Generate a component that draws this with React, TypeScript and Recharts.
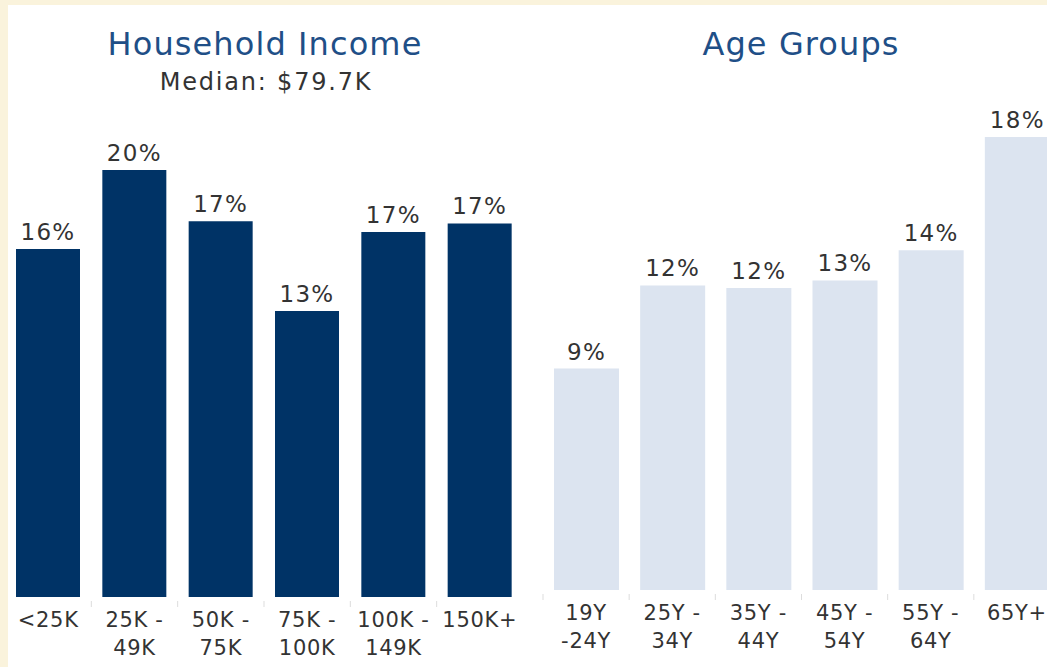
import React from 'react';
import { BarChart, Bar, XAxis, YAxis, LabelList } from 'recharts';

const incomeCategories = ['<25K', '25K -\n49K', '50K -\n75K', '75K -\n100K', '100K -\n149K', '150K+'];
const incomeValues = [16.3, 20.0, 17.6, 13.4, 17.1, 17.5];
const incomeLabels = ['16%', '20%', '17%', '13%', '17%', '17%'];

const ageCategories = ['19Y\n-24Y', '25Y -\n34Y', '35Y -\n44Y', '45Y -\n54Y', '55Y -\n64Y', '65Y+'];
const ageValues = [8.8, 12.1, 12.0, 12.3, 13.5, 18.0];
const ageLabels = ['9%', '12%', '12%', '13%', '14%', '18%'];

const incomeTitle = 'Household Income';
const incomeSubtitle = 'Median: $79.7K';
const ageTitle = 'Age Groups';

const FONT = '"DejaVu Sans", Verdana, sans-serif';
const TEXT = '#333333';
const TITLE = '#1f4f87';
const DARK = '#003366';
const LIGHT = '#dce4f0';
const CREAM = '#faf3dc';

const incomeData = incomeCategories.map((c, i) => ({ name: c, value: incomeValues[i], label: incomeLabels[i] }));
const ageData = ageCategories.map((c, i) => ({ name: c, value: ageValues[i], label: ageLabels[i] }));

function MultiTick(props: any) {
  const { x, y, payload, width, visibleTicksCount } = props;
  const lines = String(payload.value).split('\n');
  const count = visibleTicksCount || 6;
  const half = payload.offset != null && payload.offset > 0 ? payload.offset : width / count / 2;
  return (
    <g>
      <line x1={x - half} x2={x - half} y1={y + 4} y2={y + 10} stroke="#dddddd" strokeWidth={1} />
      {lines.map((ln: string, i: number) => (
        <text key={i} x={x} y={y + 30 + i * 28} textAnchor="middle" fill={TEXT} fontSize={21} fontFamily={FONT} letterSpacing={0.7}>
          {ln}
        </text>
      ))}
    </g>
  );
}

function ValueLabel(props: any) {
  const { x, y, width, value } = props;
  return (
    <text x={Number(x) + Number(width) / 2} y={Number(y) - 9} textAnchor="middle" fill={TEXT} fontSize={23} fontFamily={FONT} letterSpacing={1.3}>
      {value}
    </text>
  );
}

export default function App() {
  return (
    <div style={{ position: 'fixed', left: 0, top: 0, width: 1047, height: 667, overflow: 'hidden', background: CREAM }}>
      <div style={{ position: 'absolute', left: 8, top: 5, width: 1039, height: 662, overflow: 'hidden', background: '#ffffff' }}>
        <div style={{ position: 'absolute', left: -8, top: -5 }}>
          <BarChart width={530} height={667} data={incomeData} margin={{ top: 170, right: 7, bottom: 30, left: 5 }}>
            <XAxis dataKey="name" axisLine={false} tickLine={false} tickSize={0} tickMargin={0} height={40} interval={0} tick={<MultiTick />} />
            <YAxis hide domain={[0, 20]} allowDataOverflow type="number" />
            <Bar dataKey="value" fill={DARK} barSize={64} isAnimationActive={false}>
              <LabelList dataKey="label" content={<ValueLabel />} />
            </Bar>
          </BarChart>
        </div>
        <div style={{ position: 'absolute', left: 522, top: -5 }}>
          <BarChart width={530} height={667} data={ageData} margin={{ top: 137, right: 0, bottom: 37, left: 13 }}>
            <XAxis dataKey="name" axisLine={false} tickLine={false} tickSize={0} tickMargin={0} height={40} interval={0} tick={<MultiTick />} />
            <YAxis hide domain={[0, 18]} allowDataOverflow type="number" />
            <Bar dataKey="value" fill={LIGHT} barSize={65} isAnimationActive={false}>
              <LabelList dataKey="label" content={<ValueLabel />} />
            </Bar>
          </BarChart>
        </div>
        <svg width={1047} height={667} style={{ position: 'absolute', left: -8, top: -5, pointerEvents: 'none' }}>
          <text x={265} y={55} textAnchor="middle" fill={TITLE} fontSize={32} fontFamily={FONT} letterSpacing={1.1}>{incomeTitle}</text>
          <text x={266} y={90} textAnchor="middle" fill={TEXT} fontSize={24} fontFamily={FONT} letterSpacing={1.8}>{incomeSubtitle}</text>
          <text x={801} y={55} textAnchor="middle" fill={TITLE} fontSize={32} fontFamily={FONT} letterSpacing={1.1}>{ageTitle}</text>
        </svg>
      </div>
    </div>
  );
}
